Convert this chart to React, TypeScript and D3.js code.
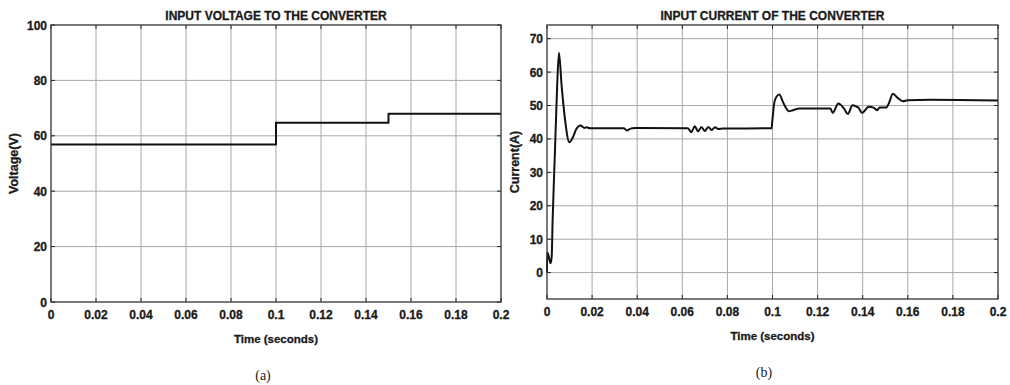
import React from "react";
import * as d3 from "d3";

// ---------- data ----------
const xTicks = [0, 0.02, 0.04, 0.06, 0.08, 0.1, 0.12, 0.14, 0.16, 0.18, 0.2];
const xTickLabels = ["0", "0.02", "0.04", "0.06", "0.08", "0.1", "0.12", "0.14", "0.16", "0.18", "0.2"];

const voltTicks = [0, 20, 40, 60, 80, 100];
const voltTime = [0, 0.1, 0.1, 0.15, 0.15, 0.2];
const voltValue = [56.9, 56.9, 64.7, 64.7, 68.0, 68.0];

const currTicks = [0, 10, 20, 30, 40, 50, 60, 70];
const currTime = [
  0, 0.0001, 0.0005, 0.0016, 0.0021, 0.0025, 0.0035, 0.0045, 0.0053, 0.0065, 0.008,
  0.0099, 0.0115, 0.013, 0.0149, 0.0166, 0.0175, 0.019, 0.034, 0.0355, 0.037, 0.039,
  0.0625, 0.064, 0.0655, 0.067, 0.0685, 0.07, 0.0715, 0.073, 0.0745, 0.076, 0.078,
  0.0996, 0.1, 0.101, 0.103, 0.105, 0.1073, 0.109, 0.112, 0.1257, 0.1267, 0.1292,
  0.1315, 0.1334, 0.1355, 0.1372, 0.1382, 0.1397, 0.1427, 0.145, 0.1464, 0.1475,
  0.1505, 0.1515, 0.1534, 0.1555, 0.1578, 0.16, 0.17, 0.2,
];
const currValue = [
  0, 6, 5.5, 2.8, 5, 15.9, 35.8, 55.8, 65.8, 55.8, 45.8,
  39.0, 40.5, 43.0, 44.0, 43.3, 43.5, 43.2, 43.2, 42.5, 43.1, 43.3,
  43.2, 42.0, 43.8, 42.3, 43.6, 42.4, 43.6, 42.7, 43.5, 43.0, 43.1,
  43.2, 46.0, 51.5, 53.3, 50.5, 48.3, 48.6, 49.1, 49.1, 47.8, 50.6,
  49.3, 47.5, 50.1, 49.7, 49.3, 47.8, 49.6, 49.3, 48.6, 49.4,
  49.4, 50.5, 53.5, 52.3, 51.3, 51.6, 51.7, 51.5,
];

const FONT = "'Liberation Sans', Arial, sans-serif";
const TXT = { fontFamily: FONT, fontWeight: "bold" as const, fill: "#1a1a1a", stroke: "#1a1a1a", strokeWidth: 0.3 };

type PanelProps = {
  left: number; right: number; top: number; bottom: number;
  yDomain: [number, number]; yTicks: number[];
  times: number[]; values: number[];
  title: string; yLabel: string; yLabelX: number; caption: string; captionX: number; captionY: number;
  step?: boolean;
};

function Panel(p: PanelProps) {
  const x = d3.scaleLinear().domain([0, 0.2]).range([p.left, p.right]);
  const y = d3.scaleLinear().domain(p.yDomain).range([p.bottom, p.top]);
  const pts: [number, number][] = p.times.map((t, i) => [t, p.values[i]]);
  const line = d3
    .line<[number, number]>()
    .x((d) => x(d[0]))
    .y((d) => y(d[1]))
    .curve(p.step ? d3.curveLinear : d3.curveMonotoneX);
  const tickLen = 4;
  const cx = (p.left + p.right) / 2;
  return (
    <g>
      {/* grid */}
      {xTicks.slice(1, -1).map((t) => (
        <line key={"gx" + t} x1={x(t)} x2={x(t)} y1={p.top} y2={p.bottom} stroke="#a8a8a8" strokeWidth={1} />
      ))}
      {p.yTicks.filter((v) => y(v) > p.top + 1 && y(v) < p.bottom - 1).map((v) => (
        <line key={"gy" + v} x1={p.left} x2={p.right} y1={y(v)} y2={y(v)} stroke="#a8a8a8" strokeWidth={1} />
      ))}
      {/* ticks inward */}
      {xTicks.map((t) => (
        <g key={"tx" + t}>
          <line x1={x(t)} x2={x(t)} y1={p.bottom} y2={p.bottom - tickLen} stroke="#222" />
          <line x1={x(t)} x2={x(t)} y1={p.top} y2={p.top + tickLen} stroke="#222" />
        </g>
      ))}
      {p.yTicks.map((v) => (
        <g key={"ty" + v}>
          <line x1={p.left} x2={p.left + tickLen} y1={y(v)} y2={y(v)} stroke="#222" />
          <line x1={p.right} x2={p.right - tickLen} y1={y(v)} y2={y(v)} stroke="#222" />
        </g>
      ))}
      {/* data */}
      <path d={line(pts) || ""} fill="none" stroke="#111" strokeWidth={2} strokeLinejoin="round" />
      {/* box */}
      <rect x={p.left} y={p.top} width={p.right - p.left} height={p.bottom - p.top} fill="none" stroke="#333" strokeWidth={1.3} />
      {/* tick labels */}
      {xTicks.map((t, i) => (
        <text key={"lx" + t} x={x(t)} y={p.bottom + 17} textAnchor="middle" fontSize={12} {...TXT}>
          {xTickLabels[i]}
        </text>
      ))}
      {p.yTicks.map((v) => (
        <text key={"ly" + v} x={p.left - 4} y={y(v) + 4.5} textAnchor="end" fontSize={12} {...TXT}>
          {v}
        </text>
      ))}
      {/* titles */}
      <text x={cx} y={p.top - 5} textAnchor="middle" fontSize={12} {...TXT}>
        {p.title}
      </text>
      <text x={cx} y={p.bottom + 41} textAnchor="middle" fontSize={11.5} {...TXT}>
        Time (seconds)
      </text>
      <text
        transform={`translate(${p.yLabelX},${(p.top + p.bottom) / 2}) rotate(-90)`}
        textAnchor="middle"
        dy={4}
        fontSize={12.5}
        {...TXT}
      >
        {p.yLabel}
      </text>
      <text x={p.captionX} y={p.captionY} textAnchor="middle" fontFamily="'Liberation Serif', 'Times New Roman', serif" fontSize={14} fill="#222">
        {p.caption}
      </text>
    </g>
  );
}

export default function App() {
  return (
    <svg width={1010} height={385} style={{ position: "absolute", left: 0, top: 0, background: "#fff" }}>
      <rect width={1010} height={385} fill="#fff" />
      <Panel
        left={51} right={501} top={25} bottom={302}
        yDomain={[0, 100]} yTicks={voltTicks}
        times={voltTime} values={voltValue}
        title="INPUT VOLTAGE TO THE CONVERTER" yLabel="Voltage(V)" yLabelX={14}
        caption="(a)" captionX={263} captionY={380} step
      />
      <Panel
        left={547} right={998} top={25} bottom={299}
        yDomain={[-7.9, 74.1]} yTicks={currTicks}
        times={currTime} values={currValue}
        title="INPUT CURRENT OF THE CONVERTER" yLabel="Current(A)" yLabelX={515}
        caption="(b)" captionX={764} captionY={377}
      />
    </svg>
  );
}
